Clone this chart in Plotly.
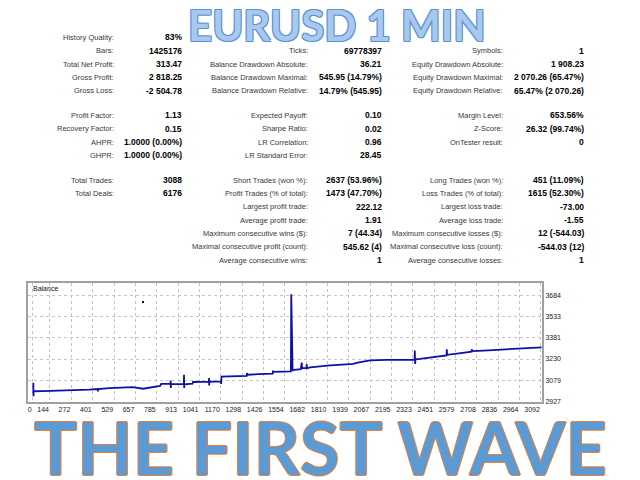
import plotly.graph_objects as go

# Titles
title_top = "EURUSD 1 MIN"
title_bottom = "THE FIRST WAVE"

# Report table: 16 rows per column, "" = empty cell
col1_labels = ["History Quality:", "Bars:", "Total Net Profit:", "Gross Profit:", "Gross Loss:",
               "Profit Factor:", "Recovery Factor:", "AHPR:", "GHPR:",
               "Total Trades:", "Total Deals:", "", "", "", "", ""]
col1_values = ["83%", "1425176", "313.47", "2 818.25", "-2 504.78",
               "1.13", "0.15", "1.0000 (0.00%)", "1.0000 (0.00%)",
               "3088", "6176", "", "", "", "", ""]
col2_labels = ["", "Ticks:", "Balance Drawdown Absolute:", "Balance Drawdown Maximal:", "Balance Drawdown Relative:",
               "Expected Payoff:", "Sharpe Ratio:", "LR Correlation:", "LR Standard Error:",
               "Short Trades (won %):", "Profit Trades (% of total):", "Largest profit trade:",
               "Average profit trade:", "Maximum consecutive wins ($):",
               "Maximal consecutive profit (count):", "Average consecutive wins:"]
col2_values = ["", "69778397", "36.21", "545.95 (14.79%)", "14.79% (545.95)",
               "0.10", "0.02", "0.96", "28.45",
               "2637 (53.96%)", "1473 (47.70%)", "222.12", "1.91", "7 (44.34)", "545.62 (4)", "1"]
col3_labels = ["", "Symbols:", "Equity Drawdown Absolute:", "Equity Drawdown Maximal:", "Equity Drawdown Relative:",
               "Margin Level:", "Z-Score:", "OnTester result:", "",
               "Long Trades (won %):", "Loss Trades (% of total):", "Largest loss trade:",
               "Average loss trade:", "Maximum consecutive losses ($):",
               "Maximal consecutive loss (count):", "Average consecutive losses:"]
col3_values = ["", "1", "1 908.23", "2 070.26 (65.47%)", "65.47% (2 070.26)",
               "653.56%", "26.32 (99.74%)", "0", "",
               "451 (11.09%)", "1615 (52.30%)", "-73.00", "-1.55", "12 (-544.03)", "-544.03 (12)", "1"]

# Balance curve
trade_x = [44, 44, 45, 46, 100, 162, 200, 252, 300, 380,
           432, 433, 434, 500, 565, 640, 703, 760, 805,
           812, 868, 869, 870, 871, 905, 948, 949, 950, 951, 1000, 1003,
           1098, 1099, 1100, 1101, 1170, 1172, 1174, 1250, 1326, 1327, 1330,
           1400, 1482, 1483, 1484, 1540, 1591,
           1593, 1595, 1596, 1598, 1600, 1601, 1603,
           1610, 1650, 1656, 1658, 1684, 1686, 1688,
           1706, 1766, 1826, 1900, 1964, 2000, 2066, 2166,
           2250, 2334, 2335, 2337, 2339, 2366, 2467,
           2526, 2527, 2529, 2600, 2676, 2677, 2679,
           2750, 2827, 2900, 2967, 3040, 3097]
balance = [3000, 3060, 2965, 3000, 3001, 3003, 3002, 3006, 3008, 3012,
           3016, 2998, 3016, 3022, 3027, 3030, 3018, 3030, 3038,
           3052, 3053, 3076, 3024, 3052, 3051, 3052, 3118, 3024, 3050, 3055, 3066,
           3068, 3095, 3041, 3068, 3070, 3052, 3104, 3108, 3110, 3130, 3118,
           3122, 3125, 3148, 3138, 3140, 3142,
           3692, 3488, 3380, 3282, 3380, 3160, 3150,
           3153, 3158, 3204, 3164, 3166, 3193, 3164,
           3170, 3178, 3185, 3190, 3196, 3206, 3220, 3224,
           3225, 3226, 3290, 3194, 3228, 3231, 3248,
           3256, 3300, 3260, 3270, 3282, 3300, 3286,
           3290, 3295, 3299, 3302, 3307, 3313.47]
stray_x = [703]
stray_y = [3636]

x_tick_vals = [40, 144, 272, 401, 529, 657, 785, 913, 1041, 1170, 1298, 1426, 1554,
               1682, 1810, 1939, 2067, 2195, 2323, 2451, 2579, 2708, 2836, 2964, 3092]
x_tick_text = ["0"] + [str(v) for v in x_tick_vals[1:]]
y_tick_vals = [2927, 3079, 3230, 3381, 3533, 3684]

W, H = 640, 480
OFF = 8  # the page body adds an 8px margin around the figure

def fx(px):
    return (px - OFF) / W

def fy(py):
    return 1 - (py - OFF) / H

fig = go.Figure()

fig.add_trace(go.Scatter(x=trade_x, y=balance, mode="lines",
                         line=dict(color="#1010a8", width=1.8), hoverinfo="skip"))
fig.add_trace(go.Scatter(x=stray_x, y=stray_y, mode="markers",
                         marker=dict(color="#000000", size=2, symbol="square"), hoverinfo="skip"))

axis_font = dict(family="Liberation Sans", size=7, color="#222222")
fig.update_xaxes(domain=[fx(28), fx(542)], range=[12, 3099],
                 tickvals=x_tick_vals, ticktext=x_tick_text, ticklabelposition="outside left",
                 tickangle=0, tickfont=axis_font, showgrid=True, gridcolor="#c4c4c4", griddash="dot",
                 zeroline=False, showline=True, linecolor="#a0a0a0", linewidth=2, mirror=True,
                 ticks="")
fig.update_yaxes(domain=[fy(401.5), fy(283)], range=[2927, 3772], side="right",
                 tickvals=y_tick_vals, tickfont=axis_font, showgrid=True, gridcolor="#c4c4c4",
                 griddash="dot", zeroline=False, showline=True, linecolor="#a0a0a0", linewidth=2,
                 mirror=True, ticks="")

ann = []
ann.append(dict(text="Balance", x=fx(31), y=fy(288), xanchor="left", yanchor="middle",
                font=dict(family="Liberation Sans", size=7, color="#111111")))

# table rows, with a blank gap after rows 4 and 8
def row_y(i):
    gaps = (i >= 5) + (i >= 9)
    return 37.3 + 13.35 * i + 11.3 * gaps

label_font = dict(family="Liberation Sans", size=7.5, color="#383838")
value_font = dict(family="Liberation Sans", size=8.5, color="#000000", weight="bold")
columns = [(col1_labels, col1_values, 116, 184),
           (col2_labels, col2_values, 310, 384),
           (col3_labels, col3_values, 505, 586)]
for labels, values, lx, vx in columns:
    for i, (lab, val) in enumerate(zip(labels, values)):
        yy = fy(row_y(i))
        if lab:
            ann.append(dict(text=lab, x=fx(lx), y=yy, xanchor="right", yanchor="middle", font=label_font))
        if val:
            ann.append(dict(text=val, x=fx(vx), y=yy, xanchor="right", yanchor="middle", font=value_font))

ann.append(dict(text=title_top, x=fx(337), y=fy(25), xanchor="center", yanchor="middle",
                font=dict(family="Lato", size=42, color="#a8c8ee", weight="bold",
                          shadow="1px 1px 0 #5b92d6, -1px -1px 0 #5b92d6, 1px -1px 0 #5b92d6, -1px 1px 0 #5b92d6")))
ann.append(dict(text=title_bottom, x=fx(320), y=fy(447), xanchor="center", yanchor="middle",
                font=dict(family="Lato", size=72, color="#5b9bd5", weight="bold",
                          shadow="1px 0 0 #ed7d31, -1px 0 0 #ed7d31, 0 1px 0 #ed7d31, 0 -1px 0 #ed7d31")))

for a in ann:
    a.update(xref="paper", yref="paper", showarrow=False)

fig.update_layout(width=W, height=H, margin=dict(l=0, r=0, t=0, b=0, autoexpand=False),
                  paper_bgcolor="white", plot_bgcolor="white", showlegend=False,
                  annotations=ann)

fig.write_html("out.html")
